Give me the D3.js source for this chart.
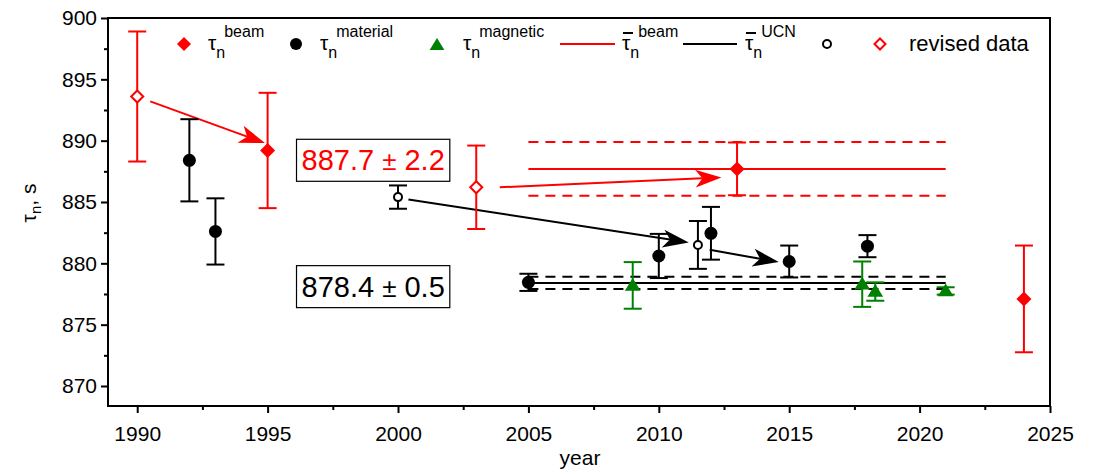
<!DOCTYPE html>
<html><head><meta charset="utf-8">
<script src="https://cdn.jsdelivr.net/npm/d3@7"></script>
<style>body{margin:0;background:#fff}svg{display:block;font-family:"Liberation Sans",Arial,sans-serif}</style>
</head><body>
<svg id="c" width="1097" height="470"></svg>
<script>
// ---- data ----
const beamYears = [1995, 2013, 2024];
const beamVals  = [889.2, 887.7, 877.1];
const beamErr   = [4.7, 2.15, 4.35];

const revBeamYears = [1990, 2003];
const revBeamVals  = [893.6, 886.2];
const revBeamErr   = [5.3, 3.4];

const matYears = [1992, 1993, 2005, 2010, 2012, 2015, 2018];
const matVals  = [888.4, 882.6, 878.45, 880.6, 882.45, 880.15, 881.4];
const matErr   = [3.35, 2.7, 0.7, 1.8, 2.15, 1.3, 0.9];

const revMatYears = [2000, 2011.5];
const revMatVals  = [885.4, 881.5];
const revMatErr   = [0.95, 1.95];

const magYears = [2009, 2017.8, 2018.3, 2021];
const magVals  = [878.2, 878.3, 877.7, 877.75];
const magErr   = [1.9, 1.85, 0.75, 0.3];

const meanBeam = {v: 887.7, e: 2.2, from: 2005, to: 2021};
const meanUCN  = {v: 878.4, e: 0.5, from: 2005, to: 2021};

const redArrows   = [[1990.5, 893.2, 1994.9, 889.8], [2003.9, 886.2, 2012.4, 887.0]];
const blackArrows = [[2000.4, 885.2, 2011.15, 881.7], [2011.95, 881.1, 2014.6, 880.1]];

const xTicks = [1990, 1995, 2000, 2005, 2010, 2015, 2020, 2025];
const yTicks = [870, 875, 880, 885, 890, 895, 900];

// ---- layout ----
const svg = d3.select("#c");
const L = 108, R = 1050, T = 18, B = 406;
const x = d3.scaleLinear().domain([1988.88, 2025]).range([L, R]);
const y = d3.scaleLinear().domain([870, 900]).range([386, 18]);
const RED = "#ff0000", GREEN = "#008000", BLACK = "#000";

// frame
svg.append("rect").attr("x", L).attr("y", T).attr("width", R - L).attr("height", B - T)
  .attr("fill", "none").attr("stroke", "#000").attr("stroke-width", 2);

// y axis
const gy = svg.append("g").attr("transform", `translate(${L},0)`)
  .call(d3.axisLeft(y).tickValues(yTicks).tickSize(7).tickPadding(4).tickFormat(d3.format("d")));
gy.select(".domain").remove();
gy.selectAll("line").attr("stroke-width", 2);
gy.selectAll("text").attr("font-size", 21).attr("fill", "#000");
svg.append("g").attr("transform", `translate(${L},0)`)
  .call(d3.axisLeft(y).tickValues(d3.range(872.5, 900, 5)).tickSize(4).tickFormat(""))
  .call(g => g.select(".domain").remove()).selectAll("line").attr("stroke-width", 2);

// x axis
const gx = svg.append("g").attr("transform", `translate(0,${B})`)
  .call(d3.axisBottom(x).tickValues(xTicks).tickSize(7).tickPadding(13).tickFormat(d3.format("d")));
gx.select(".domain").remove();
gx.selectAll("line").attr("stroke-width", 2);
gx.selectAll("text").attr("font-size", 21).attr("fill", "#000");
svg.append("g").attr("transform", `translate(0,${B})`)
  .call(d3.axisBottom(x).tickValues(d3.range(1992.5, 2025, 5)).tickSize(4).tickFormat(""))
  .call(g => g.select(".domain").remove()).selectAll("line").attr("stroke-width", 2);

// axis titles
svg.append("text").attr("x", 580).attr("y", 465).attr("text-anchor", "middle").attr("font-size", 21).text("year");
const yt = svg.append("text").attr("transform", "translate(36,203) rotate(-90)").attr("text-anchor", "middle").attr("font-size", 21);
yt.append("tspan").text("τ");
yt.append("tspan").attr("font-size", 15).attr("dy", 5).text("n");
yt.append("tspan").attr("dy", -5).text(", s");

// mean bands
function meanLines(m, col) {
  const g = svg.append("g").attr("stroke", col).attr("stroke-width", 2);
  g.append("line").attr("x1", x(m.from)).attr("x2", x(m.to)).attr("y1", y(m.v)).attr("y2", y(m.v));
  [m.v + m.e, m.v - m.e].forEach(v => g.append("line").attr("x1", x(m.from)).attr("x2", x(m.to))
    .attr("y1", y(v)).attr("y2", y(v)).attr("stroke-dasharray", "10,7"));
}
meanLines(meanBeam, RED);
meanLines(meanUCN, BLACK);

// arrows
function arrow(a, col) {
  const [x1, y1, x2, y2] = [x(a[0]), y(a[1]), x(a[2]), y(a[3])];
  const ang = Math.atan2(y2 - y1, x2 - x1);
  const g = svg.append("g");
  const len = 26, wid = 9, back = 19;
  const bx = x2 - back * Math.cos(ang), by = y2 - back * Math.sin(ang);
  g.append("line").attr("x1", x1).attr("y1", y1).attr("x2", bx).attr("y2", by).attr("stroke", col).attr("stroke-width", 2);
  const p1 = [x2 - len * Math.cos(ang) + wid * Math.sin(ang), y2 - len * Math.sin(ang) - wid * Math.cos(ang)];
  const p2 = [x2 - len * Math.cos(ang) - wid * Math.sin(ang), y2 - len * Math.sin(ang) + wid * Math.cos(ang)];
  g.append("path").attr("d", `M${x2},${y2}L${p1}L${bx},${by}L${p2}Z`).attr("fill", col);
}
redArrows.forEach(a => arrow(a, RED));
blackArrows.forEach(a => arrow(a, BLACK));

// error bars
function errBars(xs, vs, es, col) {
  const g = svg.append("g").attr("stroke", col).attr("stroke-width", 2);
  xs.forEach((yr, i) => {
    const cx = x(yr), t = y(vs[i] + es[i]), b = y(vs[i] - es[i]);
    g.append("line").attr("x1", cx).attr("x2", cx).attr("y1", t).attr("y2", b);
    g.append("line").attr("x1", cx - 9).attr("x2", cx + 9).attr("y1", t).attr("y2", t);
    g.append("line").attr("x1", cx - 9).attr("x2", cx + 9).attr("y1", b).attr("y2", b);
  });
}
errBars(revBeamYears, revBeamVals, revBeamErr, RED);
errBars(beamYears, beamVals, beamErr, RED);
errBars(matYears, matVals, matErr, BLACK);
errBars(revMatYears, revMatVals, revMatErr, BLACK);
errBars(magYears, magVals, magErr, GREEN);

const diamond = (cx, cy, r) => `M${cx},${cy - r}L${cx + r},${cy}L${cx},${cy + r}L${cx - r},${cy}Z`;
const tri = (cx, cy, r) => `M${cx},${cy - r}L${cx + r * 1.05},${cy + r * 0.7}L${cx - r * 1.05},${cy + r * 0.7}Z`;

// markers
svg.append("g").selectAll("path").data(beamYears).join("path")
  .attr("d", (d, i) => diamond(x(d), y(beamVals[i]), 7.5)).attr("fill", RED);
svg.append("g").selectAll("path").data(revBeamYears).join("path")
  .attr("d", (d, i) => diamond(x(d), y(revBeamVals[i]), 6)).attr("fill", "#fff").attr("stroke", RED).attr("stroke-width", 2);
svg.append("g").selectAll("circle").data(matYears).join("circle")
  .attr("cx", d => x(d)).attr("cy", (d, i) => y(matVals[i])).attr("r", 6.5).attr("fill", BLACK);
svg.append("g").selectAll("circle").data(revMatYears).join("circle")
  .attr("cx", d => x(d)).attr("cy", (d, i) => y(revMatVals[i])).attr("r", 4).attr("fill", "#fff").attr("stroke", BLACK).attr("stroke-width", 2);
svg.append("g").selectAll("path").data(magYears).join("path")
  .attr("d", (d, i) => tri(x(d), y(magVals[i]), 7.5)).attr("fill", GREEN);

// annotation boxes
function box(yr, v, num, err, col) {
  const g = svg.append("g");
  const t = g.append("text").attr("x", x(yr)).attr("y", y(v) + 10).attr("font-size", 29).attr("fill", col);
  t.append("tspan").text(num + " ");
  t.append("tspan").attr("font-size", 26).text("±");
  t.append("tspan").text(" " + err);
  const bb = t.node().getBBox();
  g.insert("rect", "text").attr("x", bb.x - 5).attr("y", y(v) - 21).attr("width", bb.width + 10).attr("height", 42)
    .attr("fill", "#fff").attr("stroke", "#000").attr("stroke-width", 1.2);
}
box(1996.3, 888.4, meanBeam.v, meanBeam.e, RED);
box(1996.3, 878.1, meanUCN.v, meanUCN.e, BLACK);

// legend
const ly = 44;
function tauLabel(lx, sup, bar) {
  const t = svg.append("text").attr("x", lx).attr("y", ly + 6).attr("font-size", 21);
  t.append("tspan").text("τ");
  t.append("tspan").attr("font-size", 16).attr("dy", 8).text("n");
  t.append("tspan").attr("font-size", 16).attr("dx", -1).attr("dy", -21).text(sup);
  if (bar) svg.append("line").attr("x1", lx + 1).attr("x2", lx + 11).attr("y1", ly - 11).attr("y2", ly - 11).attr("stroke", "#000").attr("stroke-width", 2);
}
svg.append("path").attr("d", diamond(184, ly, 7)).attr("fill", RED);
tauLabel(208, "beam");
svg.append("circle").attr("cx", 296).attr("cy", ly).attr("r", 6).attr("fill", BLACK);
tauLabel(320, "material");
svg.append("path").attr("d", tri(437, ly + 1, 7)).attr("fill", GREEN);
tauLabel(463, "magnetic");
svg.append("line").attr("x1", 560).attr("x2", 615).attr("y1", ly).attr("y2", ly).attr("stroke", RED).attr("stroke-width", 2);
tauLabel(622, "beam", true);
svg.append("line").attr("x1", 683).attr("x2", 737).attr("y1", ly).attr("y2", ly).attr("stroke", BLACK).attr("stroke-width", 2);
tauLabel(745, "UCN", true);
svg.append("circle").attr("cx", 827).attr("cy", ly).attr("r", 4).attr("fill", "#fff").attr("stroke", BLACK).attr("stroke-width", 2);
svg.append("path").attr("d", diamond(880, ly, 5.5)).attr("fill", "#fff").attr("stroke", RED).attr("stroke-width", 2);
svg.append("text").attr("x", 909).attr("y", ly + 7).attr("font-size", 22).text("revised data");
</script>
</body></html>
